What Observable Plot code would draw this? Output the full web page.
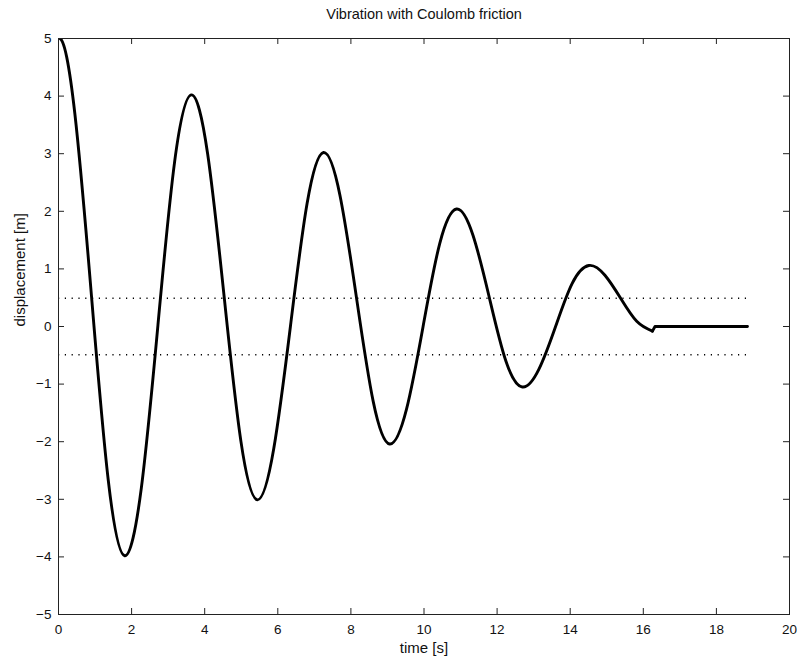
<!DOCTYPE html>
<html>
<head>
<meta charset="utf-8">
<script src="https://cdn.jsdelivr.net/npm/d3@7"></script>
<script src="https://cdn.jsdelivr.net/npm/@observablehq/plot@0.6"></script>
<style>
  html, body { margin: 0; padding: 0; background: #fff; }
  #chart svg { display: block; }
</style>
</head>
<body>
<div id="chart"></div>
<script>
// Values
// oscillating part (smooth); the first point mirrors the start so the
// curve leaves t = 0 flat (it is clipped to the frame)
const time = [
  -0.45, 0, 0.45, 0.905, 1.36, 1.81,
  2.265, 2.72, 3.175, 3.63,
  4.08, 4.535, 4.99, 5.44,
  5.89, 6.345, 6.8, 7.25,
  7.70, 8.155, 8.61, 9.06,
  9.52, 9.975, 10.43, 10.89,
  11.34, 11.79, 12.24, 12.69,
  13.145, 13.6, 14.055, 14.51,
  14.95, 15.38, 15.82, 16.25
];
const displacement = [
  3.68, 5, 3.68, 0.51, -2.66, -3.98,
  -2.81, 0.02, 2.85, 4.02,
  3.0, 0.5, -1.99, -3.01,
  -2.12, 0.0, 2.13, 3.02,
  2.28, 0.49, -1.30, -2.04,
  -1.44, 0.0, 1.44, 2.04,
  1.585, 0.495, -0.60, -1.05,
  -0.74, 0.0, 0.75, 1.06,
  0.89, 0.49, 0.09, -0.08
];
// stuck part (after motion stops)
const stopTime = [16.25, 16.32, 18.85];
const stopDisplacement = [-0.08, 0.0, 0.0];
const frictionLevels = [0.49, -0.49];
const frictionStart = [0, 0];
const frictionEnd = [18.85, 18.85];
const xTicks = [0, 2, 4, 6, 8, 10, 12, 14, 16, 18, 20];
const yTicks = [-5, -4, -3, -2, -1, 0, 1, 2, 3, 4, 5];
const titleText = "Vibration with Coulomb friction";
const xLabel = "time [s]";
const yLabel = "displacement [m]";

const series = time.map((t, i) => ({t, x: displacement[i]}));
const tail = stopTime.map((t, i) => ({t, x: stopDisplacement[i]}));
const friction = frictionLevels.map((y, i) => ({y, x1: frictionStart[i], x2: frictionEnd[i]}));

const W = 797, H = 662;
const mt = 38, mb = 48, ml = 58, mr = 8;
const innerW = W - ml - mr, innerH = H - mt - mb;
const tickLen = 6;
const font = "'Liberation Sans', Arial, Helvetica, sans-serif";
const fmt = d => d < 0 ? "\u2212" + Math.abs(d) : String(d);

const chart = Plot.plot({
  width: W,
  height: H,
  marginTop: mt,
  marginBottom: mb,
  marginLeft: ml,
  marginRight: mr,
  style: {fontFamily: font, fontSize: "13px", color: "#000", background: "#fff"},
  x: {domain: [0, 20], ticks: xTicks, label: null},
  y: {domain: [-5, 5], ticks: yTicks, label: null},
  marks: [
    // friction bounds (dotted)
    Plot.ruleY(friction, {y: "y", x1: "x1", x2: "x2", stroke: "#000", strokeWidth: 1.5, strokeDasharray: "1.2,5.6"}),
    // response curve
    Plot.line(series, {x: "t", y: "x", stroke: "#000", strokeWidth: 2.9, curve: "natural", clip: true}),
    Plot.line(tail, {x: "t", y: "x", stroke: "#000", strokeWidth: 2.9, curve: "linear"}),
    // inward ticks
    Plot.tickX(xTicks, {x: d => d, stroke: "#222", strokeWidth: 1, insetTop: innerH - tickLen}),
    Plot.tickX(xTicks, {x: d => d, stroke: "#222", strokeWidth: 1, insetBottom: innerH - tickLen}),
    Plot.tickY(yTicks, {y: d => d, stroke: "#222", strokeWidth: 1, insetRight: innerW - tickLen}),
    Plot.tickY(yTicks, {y: d => d, stroke: "#222", strokeWidth: 1, insetLeft: innerW - tickLen}),
    Plot.frame({stroke: "#222", strokeWidth: 1}),
    Plot.axisX(xTicks, {anchor: "bottom", tickSize: 0, tickPadding: 10, label: null, fontSize: 13.5, fill: "#111", tickFormat: fmt}),
    Plot.axisY(yTicks, {anchor: "left", tickSize: 0, tickPadding: 7, label: null, fontSize: 13.5, fill: "#111", tickFormat: fmt}),
    // axis labels and title
    Plot.text([xLabel], {frameAnchor: "bottom", dy: 34, text: d => d, fontSize: 15, lineAnchor: "middle", fill: "#111"}),
    Plot.text([yLabel], {frameAnchor: "left", dx: -38, rotate: -90, text: d => d, fontSize: 15, lineAnchor: "middle", fill: "#111"}),
    Plot.text([titleText], {frameAnchor: "top", dy: -24, text: d => d, fontSize: 14.5, lineAnchor: "middle", fill: "#111"})
  ]
});
document.getElementById("chart").appendChild(chart);
</script>
</body>
</html>
